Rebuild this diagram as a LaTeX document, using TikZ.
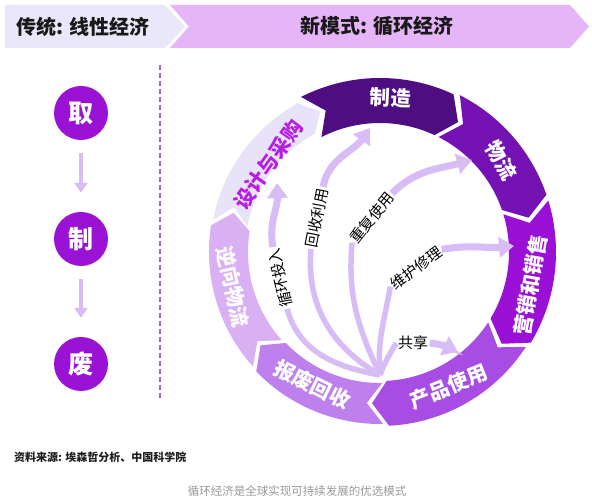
\documentclass[tikz,border=0pt]{standalone}
\usepackage{fontspec}
\setmainfont{Noto Sans CJK SC}
\usetikzlibrary{arrows.meta}
\definecolor{cZZ}{HTML}{4E0D80}
\definecolor{cWL}{HTML}{7412B4}
\definecolor{cYX}{HTML}{9A10D6}
\definecolor{cCP}{HTML}{A84DE4}
\definecolor{cBF}{HTML}{BD80EC}
\definecolor{cNX}{HTML}{DAB0F4}
\definecolor{cSJ}{HTML}{E9E3FA}
\definecolor{cSJtext}{HTML}{B520E0}
\definecolor{cArrow}{HTML}{D8BCF5}
\definecolor{cCircle}{HTML}{9A12D4}
\definecolor{cHeadL}{HTML}{EBE7FB}
\definecolor{cHeadR}{HTML}{E6B5F7}
\definecolor{cDash}{HTML}{A566D6}
\newcommand\ringseg[5]{\fill[#5] (#1:#4) arc[start angle=#1, end angle=#2, radius=#4] -- ({#2-6}:{(#3+#4)/2}) -- (#2:#3) arc[start angle=#2, end angle=#1, radius=#3] -- ({#1-6}:{(#3+#4)/2}) -- cycle;}
\tikzset{
  seglbl/.style={text=white, font=\fontsize{20.5}{20.5}\selectfont\bfseries, inner sep=0pt},
  headtxt/.style={text=black!90, font=\fontsize{20}{20}\selectfont\bfseries, inner sep=0pt},
  circ/.style={circle, fill=cCircle, minimum size=54pt, inner sep=0pt, text=white, font=\fontsize{25}{25}\selectfont\bfseries},
  larr/.style={draw=cArrow, line width=4pt, -{Triangle[width=13pt,length=10pt]}},
  dashline/.style={draw=cDash, line width=1.2pt, dash pattern=on 5pt off 3pt},
  arrtxt/.style={text=black, font=\fontsize{15}{15}\selectfont, inner sep=1.5pt},
  arrlow/.style={draw=cArrow, line width=5.5pt},
  arrup/.style={draw=cArrow, line width=7pt, -{Triangle[width=20pt,length=15pt]}},
}
\begin{document}
\begin{tikzpicture}[x=1pt,y=1pt]
\useasboundingbox[fill=white] (0,0) rectangle (592,500);
% header
\fill[cHeadL] (5,495) -- (165,495) -- (185,473.5) -- (165,452) -- (5,452) -- cycle;
\fill[cHeadR] (170,495) -- (570,495) -- (589,473.5) -- (570,452) -- (170,452) -- (189,473.5) -- cycle;
\node[headtxt] (hl) at (83,473.5) {传统: 线性经济};
\node[headtxt] (hr) at (377,473.5) {新模式: 循环经济};
% linear economy
\node[circ] (qu) at (81,387) {取};
\node[circ] (zhi) at (81,261) {制};
\node[circ] (fei) at (81,136) {废};
\draw[larr, shorten <=13pt, shorten >=19pt] (qu) -- (zhi);
\draw[larr, shorten <=13pt, shorten >=19pt] (zhi) -- (fei);
\coordinate (dt) at (160,435);
\coordinate (db) at (160,102);
\draw[dashline] (dt) -- (db);
% ring
\begin{scope}[shift={(380,248)}]
\ringseg{117}{65}{129}{174}{cZZ}
\ringseg{63}{19}{129}{176}{cWL}
\ringseg{17}{-31}{129}{176}{cYX}
\ringseg{-33}{-87}{129}{174}{cCP}
\ringseg{-89}{-136}{131}{172}{cBF}
\ringseg{-138}{-189}{132}{171}{cNX}
\ringseg{-191}{-241}{135}{170}{cSJ}
\node[seglbl, rotate=-3] (lzz) at (86:155) {制造};
\node[seglbl, rotate=-60] (lwl) at (37:152) {物流};
\node[seglbl, rotate=80] (lyx) at (-12.4:154) {营销和销售};
\node[seglbl, rotate=22] (lcp) at (-63:151) {产品使用};
\node[seglbl, rotate=-26] (lbf) at (-117:149) {报废回收};
\node[seglbl, rotate=-78] (lnx) at (-166.6:151) {逆向物流};
\node[seglbl, text=cSJtext, rotate=55] (lsj) at (142:142) {设计与采购};
\end{scope}
% inner arrows
\coordinate (O) at (380,125);
\coordinate (h1) at (277,317);
\coordinate (h2) at (370,372);
\coordinate (h3) at (472,340);
\coordinate (h4) at (514,254);
\coordinate (h5) at (458,148);
\node[arrtxt, rotate=103] (t1) at (280,222) {循环投入};
\node[arrtxt, rotate=79] (t2) at (317,282) {回收利用};
\node[arrtxt, rotate=51] (t3) at (372,282) {重复使用};
\node[arrtxt, rotate=36] (t4) at (416,232) {维护修理};
\node[arrtxt] (t5) at (413,157) {共享};
\draw[arrlow] (O) to[out=170, in=-75] (t1.west);
\draw[arrlow] (O) to[out=150, in=-95] (t2.west);
\draw[arrlow] (O) to[out=115, in=-95] (t3.west);
\draw[arrlow] (O) to[out=95, in=-100] (t4.west);
\draw[arrlow] (O) to[out=70, in=-120] (t5.west);
\draw[arrup] (t1.east) to[out=100, in=-88] (h1);
\draw[arrup] (t2.east) to[out=79, in=-125] (h2);
\draw[arrup] (t3.east) to[out=45, in=-165] (h3);
\draw[arrup] (t4.east) to[out=10, in=185] (h4);
\draw[arrup] (t5.east) to[out=-5, in=155] (h5);
% footer
\node[anchor=west, text=black!88, font=\fontsize{11}{11}\selectfont\bfseries, inner sep=0pt] (src) at (14,43) {资料来源: 埃森哲分析、中国科学院};
\node[text=black!40, font=\fontsize{11.5}{11.5}\selectfont, inner sep=0pt] (cap) at (297,9) {循环经济是全球实现可持续发展的优选模式};
\end{tikzpicture}
\end{document}
